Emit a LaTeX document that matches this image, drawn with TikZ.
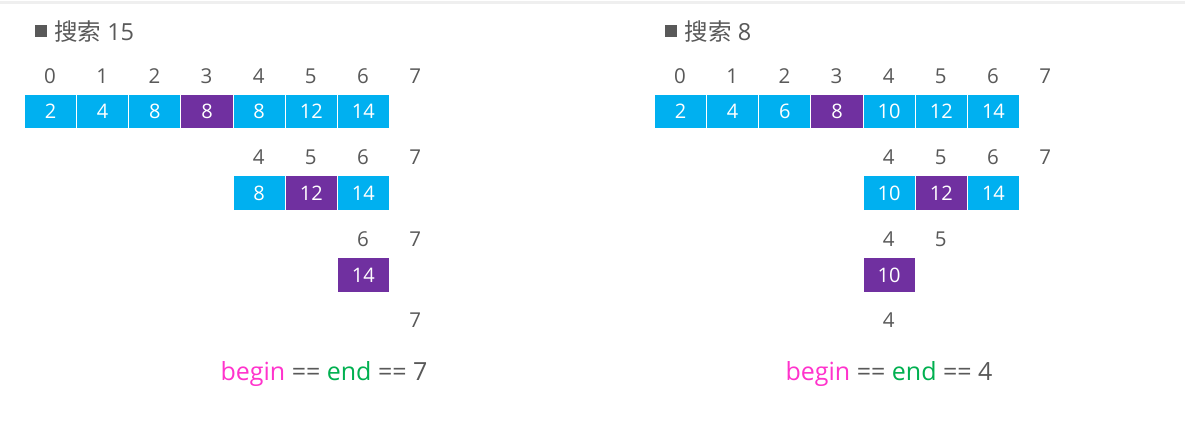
\documentclass[tikz,border=0pt]{standalone}
\usepackage{fontspec}
\setmainfont{Open Sans}
\newfontfamily\cjk{Noto Sans CJK SC}
\definecolor{cy}{HTML}{00B0F0}
\definecolor{pu}{HTML}{7030A0}
\definecolor{tx}{HTML}{595959}
\definecolor{pk}{HTML}{FF33CC}
\definecolor{gr}{HTML}{00B050}
\definecolor{topline}{HTML}{EFEFEF}
\begin{document}
\begin{tikzpicture}[x=1pt,y=-1pt,
  cellbox/.style={draw=white, line width=0.9pt, minimum width=52.15pt, minimum height=34.5pt,
    inner sep=0pt, text=white, font=\fontsize{20}{20}\selectfont, anchor=north west, fill=cy},
  hit/.style={fill=pu},
  idx/.style={text=tx, font=\fontsize{20.5}{20.5}\selectfont, inner sep=0pt},
  ttl/.style={text=tx, font=\fontsize{23.5}{23.5}\selectfont, inner sep=0pt, anchor=west},
  bullet/.style={fill=tx, draw=none, minimum size=12pt, inner sep=0pt},
  res/.style={text=tx, font=\fontsize{25}{25}\selectfont, inner sep=0pt}]
\useasboundingbox (0,0) rectangle (1185,427);
\fill[white] (0,0) rectangle (1185,427);
\fill[topline] (0,1) rectangle (1185,4.5);

% ---------- left panel: search 15 ----------
\node[bullet] (Lsq) at (40.5,31.5) {};
\node[ttl] (Ltitle) at (54,31.5) {{\cjk 搜索} 15};
\foreach \i in {0,...,7} \node[idx] (Li1\i) at ({24+52.15*(\i+0.5)},76) {\i};
\foreach \v [count=\c from 0] in {2,4,8,8,8,12,14}
  \node[cellbox] (Lc1\c) at ({24+52.15*\c},94) {\v};
\node[cellbox,hit] (Lc13) at ({24+52.15*3},94) {8};
\foreach \i in {4,...,7} \node[idx] (Li2\i) at ({24+52.15*(\i+0.5)},157.5) {\i};
\foreach \v [count=\c from 4] in {8,12,14}
  \node[cellbox] (Lc2\c) at ({24+52.15*\c},175.5) {\v};
\node[cellbox,hit] (Lc25) at ({24+52.15*5},175.5) {12};
\foreach \i in {6,7} \node[idx] (Li3\i) at ({24+52.15*(\i+0.5)},239) {\i};
\node[cellbox,hit] (Lc36) at ({24+52.15*6},257.5) {14};
\node[idx] (Li47) at ({24+52.15*7.5},320) {7};
\node[res] (Lres) at (324,374.5) {\textcolor{pk}{begin} == \textcolor{gr}{end} == 7};

% ---------- right panel: search 8 ----------
\node[bullet] (Rsq) at (671,31.5) {};
\node[ttl] (Rtitle) at (684.5,31.5) {{\cjk 搜索} 8};
\foreach \i in {0,...,7} \node[idx] (Ri1\i) at ({654+52.15*(\i+0.5)},76) {\i};
\foreach \v [count=\c from 0] in {2,4,6,8,10,12,14}
  \node[cellbox] (Rc1\c) at ({654+52.15*\c},94) {\v};
\node[cellbox,hit] (Rc13) at ({654+52.15*3},94) {8};
\foreach \i in {4,...,7} \node[idx] (Ri2\i) at ({654+52.15*(\i+0.5)},157.5) {\i};
\foreach \v [count=\c from 4] in {10,12,14}
  \node[cellbox] (Rc2\c) at ({654+52.15*\c},175.5) {\v};
\node[cellbox,hit] (Rc25) at ({654+52.15*5},175.5) {12};
\foreach \i in {4,5} \node[idx] (Ri3\i) at ({654+52.15*(\i+0.5)},239) {\i};
\node[cellbox,hit] (Rc34) at ({654+52.15*4},257.5) {10};
\node[idx] (Ri44) at ({654+52.15*4.5},320) {4};
\node[res] (Rres) at (889,374.5) {\textcolor{pk}{begin} == \textcolor{gr}{end} == 4};
\end{tikzpicture}
\end{document}
